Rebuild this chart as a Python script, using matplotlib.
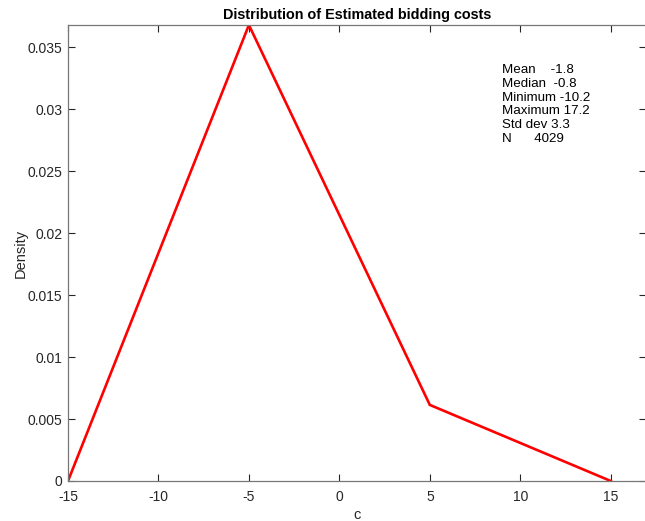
import matplotlib
matplotlib.use('Agg')
import matplotlib.pyplot as plt

# density estimate points
c_vals = [-15, -5, 5, 15]
density = [0.0, 0.0368, 0.00614, 0.0]

stats_labels = ["Mean    -1.8", "Median  -0.8", "Minimum -10.2",
                "Maximum 17.2", "Std dev 3.3", "N      4029"]

x_ticks = [-15, -10, -5, 0, 5, 10, 15]
y_ticks = [0, 0.005, 0.01, 0.015, 0.02, 0.025, 0.03, 0.035]
y_tick_labels = ["0", "0.005", "0.01", "0.015", "0.02", "0.025", "0.03", "0.035"]

plt.rcParams['font.family'] = ['Liberation Sans', 'DejaVu Sans']
plt.rcParams['axes.unicode_minus'] = False

fig = plt.figure(figsize=(6.45, 5.21), dpi=100)
ax = fig.add_axes([68/645, 40/521, 578/645, 456/521])

ax.plot(c_vals, density, color='#ff0000', lw=1.9, solid_joinstyle='miter')

ax.set_xlim(-15, 16.95)
ax.set_ylim(0, 0.0368)
ax.set_xticks(x_ticks)
ax.set_yticks(y_ticks)
ax.set_yticklabels(y_tick_labels)
ax.tick_params(direction='in', top=True, right=True, length=5, width=0.8,
               colors='#262626', labelsize=10, pad=4)
ax.tick_params(axis='x', pad=6.5)
for s in ax.spines.values():
    s.set_color('#777777')
    s.set_linewidth(0.9)

ax.set_title('Distribution of Estimated bidding costs', fontsize=10.4,
             fontweight='bold', pad=4)
ax.set_xlabel('c', fontsize=10.5, color='#262626', labelpad=3)
ax.set_ylabel('Density', fontsize=10.5, color='#262626', labelpad=0)

for i, line in enumerate(stats_labels):
    ax.text(9.0, 0.03314 - i * 0.0011, line, fontsize=9.6, va='center',
            ha='left', color='black')

fig.savefig('out.png', dpi=100)
